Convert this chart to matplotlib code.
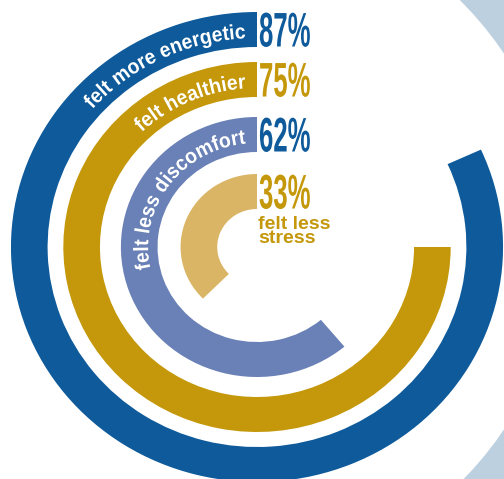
import numpy as np
import matplotlib
matplotlib.use('Agg')
import matplotlib.pyplot as plt
from matplotlib import font_manager, ft2font, patheffects
from matplotlib.font_manager import FontProperties
from matplotlib.patches import Wedge, Circle
from matplotlib.transforms import Affine2D

labels = ['felt more energetic', 'felt healthier', 'felt less discomfort', 'felt less stress']
pct_labels = ['87%', '75%', '62%', '33%']
arc_share = [0.818, 0.75, 0.611, 0.375]

# Styling
bar_colors = ['#0e5a9b', '#c4980a', '#6981b6', '#dab565']
pct_colors = ['#0e5a9b', '#c4980a', '#0e5a9b', '#c4980a']
bg_blue = '#bdd0df'
ring_outer = [235, 185, 130, 73]
ring_width = 35

# Image is slightly wider than tall: horizontal stretch factor
k = 1.047
cx_px, cy_px = 257, 247
W, H = 504, 479


def pick_font(names):
    for n in names:
        try:
            font_manager.findfont(FontProperties(family=n, weight='bold'), fallback_to_default=False)
            return n
        except ValueError:
            pass
    return 'DejaVu Sans'


class Squeeze(patheffects.AbstractPathEffect):
    """Narrow the glyphs horizontally (about the left baseline or the glyph centre)."""
    def __init__(self, sx, center=False):
        super().__init__()
        self.sx = sx
        self.center = center

    def draw_path(self, renderer, gc, tpath, affine, rgbFace=None):
        v = tpath.vertices
        if len(v) == 0:
            return
        if self.center:
            xc = (v[:, 0].min() + v[:, 0].max()) / 2
            t = Affine2D().translate(-xc, 0).scale(self.sx, 1).translate(xc, 0)
        else:
            t = Affine2D().scale(self.sx, 1)
        renderer.draw_path(gc, tpath, t + affine, rgbFace)


label_font = 'Liberation Sans'
narrow = pick_font(['Liberation Sans Narrow'])
if narrow == 'Liberation Sans Narrow':
    pct_font, squeeze = narrow, 0.65
else:
    pct_font, squeeze = 'Liberation Sans', 0.53

fig = plt.figure(figsize=(W / 100, H / 100), dpi=100, facecolor=bg_blue)
ax = fig.add_axes([0, 0, 1, 1])
ax.set_xlim(-cx_px / k, (W - cx_px) / k)
ax.set_ylim(-(H - cy_px), cy_px)
ax.axis('off')

# White disc over the light blue background
ax.add_patch(Circle((-57, 5.5), 348, facecolor='white', edgecolor='none', zorder=0))

# Rings
for i, share in enumerate(arc_share):
    ax.add_patch(Wedge((0, 0), ring_outer[i], 90, 90 + 360 * share,
                       width=ring_width, facecolor=bar_colors[i], edgecolor='none', zorder=1))

# Curved labels along the rings
lab_size = 15
lab_sx = 0.93
fprop = FontProperties(family=label_font, weight='bold', size=lab_size)
ft = ft2font.FT2Font(font_manager.findfont(fprop))
ft.set_size(lab_size, 100)


def advance(c):
    return lab_sx * ft.load_char(ord(c)).linearHoriAdvance / 65536.0


def px_scale(a):
    return np.hypot(k * np.sin(a), np.cos(a))


gap = 11
for i in range(3):
    r = ring_outer[i] - ring_width / 2 - 8.5
    a = np.pi / 2 + gap / (r * k)
    for c in reversed(labels[i]):
        w = advance(c)
        mid = a + (w / 2) / (r * px_scale(a))
        rot = np.degrees(np.arctan2(-np.cos(mid), k * np.sin(mid)))
        ax.text(r * np.cos(mid), r * np.sin(mid), c, fontproperties=fprop, color='white',
                ha='center', va='baseline', rotation=rot, rotation_mode='anchor', zorder=3,
                path_effects=[Squeeze(lab_sx, center=True)])
        a = a + w / (r * px_scale(mid))

# Percent values beside the ring starts
for i, p in enumerate(pct_labels):
    base = ring_outer[i] - ring_width + 0.5
    ax.text(2 / k, base, p, family=pct_font, weight='bold', fontsize=35, color=pct_colors[i],
            ha='left', va='baseline', zorder=3, path_effects=[Squeeze(squeeze)])

# Label of the innermost ring
ax.text(1 / k, cy_px - 243, 'felt less\nstress', family=label_font, weight='bold', fontsize=14,
        color=pct_colors[3], ha='left', va='baseline', linespacing=0.78, zorder=3)

fig.savefig('out.png', dpi=100)
